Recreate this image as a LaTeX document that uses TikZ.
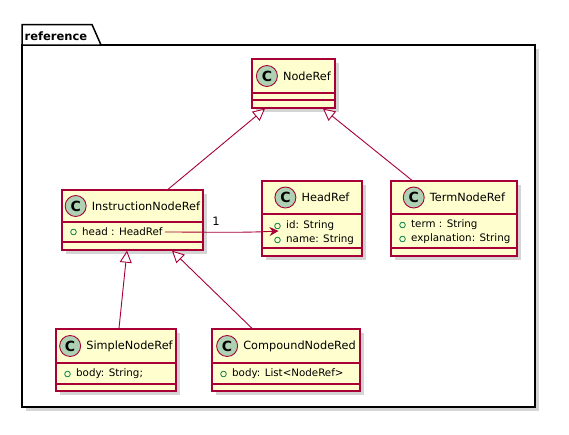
\documentclass[tikz,border=0pt]{standalone}
\usepackage{fontspec}
\setmainfont{DejaVu Sans}
\usetikzlibrary{arrows.meta,shadows,calc}

\definecolor{umlfill}{HTML}{FEFECE}
\definecolor{umlline}{HTML}{A80036}
\definecolor{umlcircle}{HTML}{ADD1B2}
\definecolor{umlvis}{HTML}{038048}

\tikzset{
  classbox/.style={draw=umlline, line width=1.3pt, fill=umlfill, rectangle, inner sep=0pt,
    drop shadow={shadow xshift=3.5pt, shadow yshift=-3.5pt, fill=black!30, opacity=0.55}},
  classline/.style={draw=umlline, line width=1.1pt},
  classname/.style={inner sep=0pt, font=\fontsize{11.3}{13}\selectfont},
  classcircle/.style={circle, draw=umlline, line width=0.9pt, fill=umlcircle, minimum size=21pt, inner sep=0pt,
    font=\fontsize{14}{16}\selectfont\bfseries},
  attr/.style={inner sep=0pt, anchor=west, font=\fontsize{10.3}{12}\selectfont},
  vismark/.style={circle, draw=umlvis, line width=0.8pt, minimum size=5.6pt, inner sep=0pt},
  inherit/.style={draw=umlline, line width=0.9pt, -{Triangle[open, fill=white, length=12pt, width=12pt]}},
  assoc/.style={draw=umlline, line width=0.9pt, -{Stealth[length=9pt, width=9pt, inset=3pt]}},
}

% #1 name, #2 left, #3 top, #4 right, #5 bottom, #6 header rule, #7 second rule, #8 title
\newcommand\classbox[8]{%
  \node[classbox, minimum width={#4pt-#2pt}, minimum height={#5pt-#3pt}] (#1) at ({(#2+#4)/2},{(#3+#5)/2}) {};
  \draw[classline] (#1.west |- 0,#6) -- (#1.east |- 0,#6);
  \draw[classline] (#1.west |- 0,#7) -- (#1.east |- 0,#7);
  \node[classname] (#1-name) at ({(#2+#4)/2+13.5},{(#3+#6)/2}) {#8};
  \node[classcircle] (#1-c) at ([xshift=-16pt]#1-name.west) {C};
}
% #1 node name, #2 class left edge, #3 y, #4 text
\newcommand\classattr[4]{%
  \node[vismark] (#1-vis) at ({#2+11.5},#3) {};
  \node[attr] (#1) at ({#2+20},#3) {#4};
}

\begin{document}
\begin{tikzpicture}[x=1pt,y=-1pt]
  \useasboundingbox (0,0) rectangle (569,434);

  % package frame with its tab
  \fill[black!30, opacity=0.55] (25.5,48.5) rectangle (538.5,410.5);
  \draw[line width=1.5pt, fill=white] (22,45) rectangle (535,407);
  \draw[line width=1.5pt, fill=white] (22,45) -- (22,24.5) -- (92,24.5) -- (101,45) -- cycle;
  \node[inner sep=0pt, font=\fontsize{11.5}{13}\selectfont\bfseries] (pkg) at (56,36) {reference};

  % classes
  \classbox{noderef}{252}{59}{335}{108}{93}{100}{NodeRef}
  \classbox{instr}{62}{190}{203}{250}{222}{242}{InstructionNodeRef}
  \classattr{instrhead}{62}{232}{head : HeadRef}
  \classbox{headref}{262}{181}{362}{256}{214}{248}{HeadRef}
  \classattr{hid}{266}{226}{id: String}
  \classattr{hname}{266}{240}{name: String}
  \classbox{term}{391}{181}{517}{256}{214}{248}{TermNodeRef}
  \classattr{tterm}{391}{225}{term : String}
  \classattr{texpl}{391}{239}{explanation: String}
  \classbox{simple}{56}{329}{176}{391}{363}{384}{SimpleNodeRef}
  \classattr{sbody}{56}{374}{body: String;}
  \classbox{compound}{212}{329}{360}{391}{363}{384}{CompoundNodeRed}
  \classattr{cbody}{212}{374}{body: List<NodeRef>}

  % generalisations
  \draw[inherit] ([xshift=35.5pt]instr.north) -- ([xshift=-28.5pt]noderef.south);
  \draw[inherit] ([xshift=-42pt]term.north) -- ([xshift=29.5pt]noderef.south);
  \draw[inherit] ([xshift=3pt]simple.north) -- ([xshift=-5.5pt]instr.south);
  \draw[inherit] ([xshift=-34pt]compound.north) -- ([xshift=39.5pt]instr.south);

  % qualified association head -> HeadRef
  \coordinate (assoctip) at ($(hid-vis)+(1,5)$);
  \draw[assoc] ([xshift=2pt]instrhead.east) .. controls +(45,0) and +(-40,2) .. (assoctip);
  \node[inner sep=0pt, font=\fontsize{11.5}{13}\selectfont] (mult) at (216,221) {1};
\end{tikzpicture}
\end{document}
